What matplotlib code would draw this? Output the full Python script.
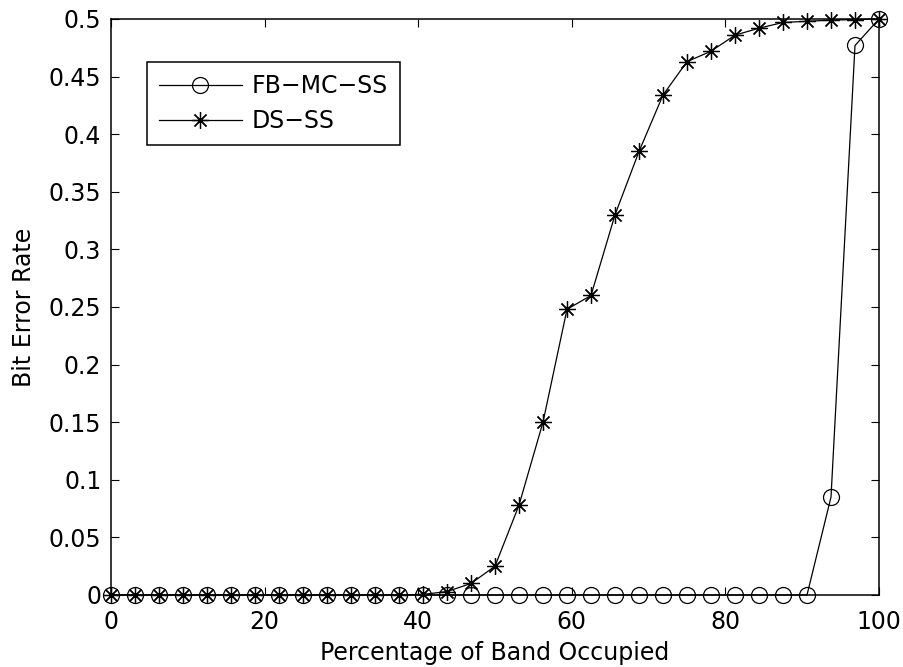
import matplotlib
matplotlib.use("Agg")
import matplotlib.pyplot as plt

# Data
percent_occupied = [0, 3.125, 6.25, 9.375, 12.5, 15.625, 18.75, 21.875, 25,
                    28.125, 31.25, 34.375, 37.5, 40.625, 43.75, 46.875, 50,
                    53.125, 56.25, 59.375, 62.5, 65.625, 68.75, 71.875, 75,
                    78.125, 81.25, 84.375, 87.5, 90.625, 93.75, 96.875, 100]

ber_fbmcss = [0, 0, 0, 0, 0, 0, 0, 0, 0, 0, 0, 0, 0, 0, 0, 0, 0,
              0, 0, 0, 0, 0, 0, 0, 0, 0, 0, 0, 0, 0, 0.085, 0.477, 0.5]

ber_dsss = [0, 0, 0, 0, 0, 0, 0, 0, 0, 0, 0, 0, 0, 0.0005, 0.003, 0.010, 0.025,
            0.078, 0.150, 0.248, 0.260, 0.330, 0.385, 0.434, 0.463, 0.472,
            0.486, 0.492, 0.497, 0.498, 0.499, 0.4995, 0.5]

series_labels = ["FB\u2212MC\u2212SS", "DS\u2212SS"]
x_ticks = [0, 20, 40, 60, 80, 100]
y_ticks = [0, 0.05, 0.1, 0.15, 0.2, 0.25, 0.3, 0.35, 0.4, 0.45, 0.5]
y_tick_labels = ["0", "0.05", "0.1", "0.15", "0.2", "0.25", "0.3", "0.35",
                 "0.4", "0.45", "0.5"]

plt.rcParams['font.family'] = ['DejaVu Sans']
FS = 17

fig = plt.figure(figsize=(9.04, 6.67), dpi=100)
ax = fig.add_axes([111 / 904, 1 - 595 / 667, 768 / 904, 576 / 667])

ax.plot(percent_occupied, ber_fbmcss, color='black', linewidth=0.9,
        marker='o', markersize=11.5, markerfacecolor='none',
        markeredgecolor='black', markeredgewidth=0.9, clip_on=False,
        label=series_labels[0])
ax.plot(percent_occupied, ber_dsss, color='black', linewidth=0.9,
        marker=(8, 2, 0), markersize=12, markeredgecolor='black',
        markeredgewidth=0.9, clip_on=False, label=series_labels[1])

ax.set_xlim(0, 100)
ax.set_ylim(0, 0.5)
ax.set_xticks(x_ticks)
ax.set_xticklabels([str(t) for t in x_ticks])
ax.set_yticks(y_ticks)
ax.set_yticklabels(y_tick_labels)

ax.tick_params(direction='in', length=5.5, width=0.8, top=True, right=True,
               labelsize=FS, colors='black')
ax.tick_params(axis='x', pad=11)
ax.tick_params(axis='y', pad=7)
for s in ax.spines.values():
    s.set_linewidth(1.1)
    s.set_color('black')

ax.set_xlabel("Percentage of Band Occupied", fontsize=FS, labelpad=5)
ax.set_ylabel("Bit Error Rate", fontsize=FS, labelpad=9)

leg = ax.legend(loc='upper left', bbox_to_anchor=(0.047, 0.925),
                borderaxespad=0, fontsize=FS, frameon=True, fancybox=False,
                framealpha=1, edgecolor='black', handlelength=3.5,
                handletextpad=0.42, labelspacing=0.46, borderpad=0.5)
leg.get_frame().set_linewidth(1.1)

fig.savefig("out.png", dpi=100, facecolor='white')
